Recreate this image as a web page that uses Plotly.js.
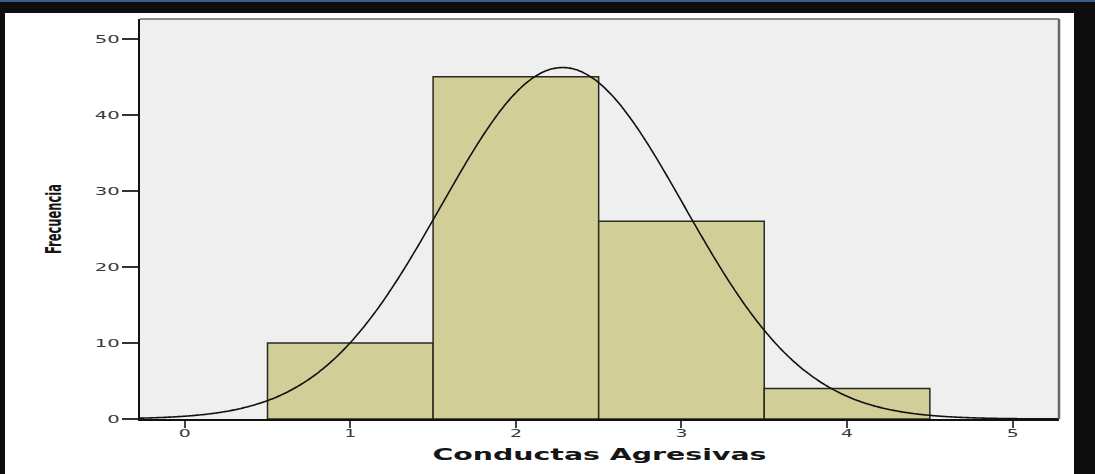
<!DOCTYPE html>
<html>
<head>
<meta charset="utf-8">
<script src="https://cdn.plot.ly/plotly-3.0.1.min.js"></script>
<style>
  html, body { margin: 0; padding: 0; background: #0d0d0d; width: 1095px; height: 474px; overflow: hidden; }
  #topline { position: absolute; left: 0; top: 0; width: 1095px; height: 2px; background: #3b5e86; }
  #chart { position: absolute; left: 5px; top: 13px; width: 1069px; height: 461px; background: #fff; }
</style>
</head>
<body>
<div id="topline"></div>
<div id="chart"></div>
<script>
// Histogram data (bin centres and counts)
const binCenters = [1, 2, 3, 4];
const binCounts = [10, 45, 26, 4];
const binWidth = 1;
const xTickVals = [0, 1, 2, 3, 4, 5];
const yTickVals = [0, 10, 20, 30, 40, 50];

// Normal curve fitted to the histogram data (as in SPSS)
const n = binCounts.reduce((a, b) => a + b, 0);
const mean = binCenters.reduce((s, x, i) => s + x * binCounts[i], 0) / n;
const ss = binCenters.reduce((s, x, i) => s + binCounts[i] * (x - mean) ** 2, 0);
const sd = Math.sqrt(ss / (n - 1));
const xr = [-0.27, 5.28];
const curveX = [], curveY = [];
for (let i = 0; i <= 400; i++) {
  const x = xr[0] + (xr[1] - xr[0]) * i / 400;
  curveX.push(x);
  curveY.push(n * binWidth / (sd * Math.sqrt(2 * Math.PI)) * Math.exp(-0.5 * ((x - mean) / sd) ** 2));
}

const traces = [
  {
    type: 'bar', x: binCenters, y: binCounts, width: binWidth,
    marker: { color: '#d2ce98', line: { color: '#2a2a22', width: 1.5 } },
    hoverinfo: 'x+y', showlegend: false
  },
  {
    type: 'scatter', mode: 'lines', x: curveX, y: curveY,
    line: { color: '#111', width: 1.6, shape: 'spline' },
    hoverinfo: 'skip', showlegend: false
  }
];

const layout = {
  width: 1069, height: 461,
  margin: { l: 135, r: 15, t: 6, b: 55 },
  paper_bgcolor: '#ffffff',
  plot_bgcolor: '#efefef',
  bargap: 0,
  showlegend: false,
  font: { family: 'DejaVu Sans, sans-serif', color: '#3a3a3a' },
  xaxis: {
    range: xr, tickvals: xTickVals, ticktext: xTickVals.map(String),
    ticks: 'outside', ticklen: 7, tickwidth: 2, tickcolor: '#444',
    ticklabelstandoff: -3,
    tickfont: { size: 10, family: 'DejaVu Sans', color: '#3a3a3a' },
    showgrid: false, zeroline: false,
    showline: true, linecolor: '#111', linewidth: 2,
    title: { text: 'Conductas Agresivas', standoff: 11,
      font: { size: 16, family: 'DejaVu Sans', weight: 'bold', color: '#151515' } },
    automargin: false, fixedrange: true
  },
  yaxis: {
    range: [0, 52.6], tickvals: yTickVals, ticktext: yTickVals.map(String),
    ticks: 'outside', ticklen: 16, tickwidth: 1.5, tickcolor: '#333',
    tickfont: { size: 11, family: 'DejaVu Sans', color: '#3a3a3a' },
    showgrid: false, zeroline: false,
    showline: true, linecolor: '#111', linewidth: 2,
    title: { text: 'Frecuencia', standoff: 38,
      font: { size: 21, family: 'DejaVu Sans', weight: 'bold', color: '#151515' } },
    automargin: false, fixedrange: true
  },
  shapes: [
    { type: 'line', xref: 'paper', yref: 'paper', x0: 0, x1: 1, y0: 1, y1: 1,
      line: { color: '#8a8a8a', width: 2 } },
    { type: 'line', xref: 'paper', yref: 'paper', x0: 1, x1: 1, y0: 0, y1: 1,
      line: { color: '#666', width: 2.5 } }
  ]
};

function stretch(el, len) {
  el.setAttribute('textLength', len);
  el.setAttribute('lengthAdjust', 'spacingAndGlyphs');
}

Plotly.newPlot('chart', traces, layout, { displayModeBar: false, staticPlot: true }).then(gd => {
  gd.querySelectorAll('.ytick text').forEach(t => stretch(t, 12.5 * t.textContent.length));
  gd.querySelectorAll('.xtick text').forEach(t => stretch(t, 12 * t.textContent.length));
  const xt = gd.querySelector('.xtitle');
  if (xt) stretch(xt, 334);
  const yt = gd.querySelector('.ytitle');
  if (yt) stretch(yt, 70);
});
</script>
</body>
</html>
